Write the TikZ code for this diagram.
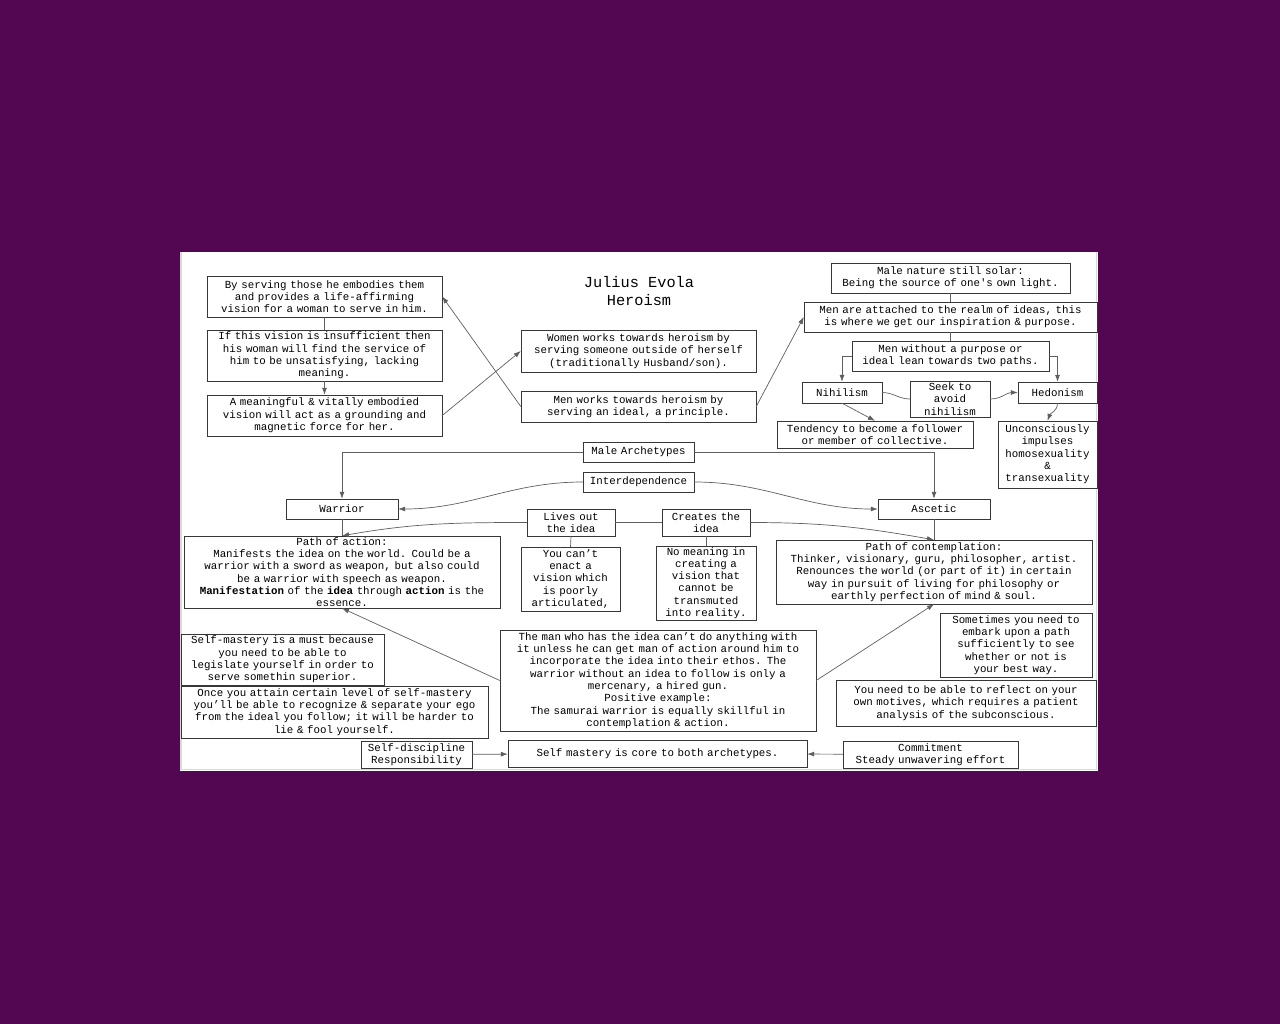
\documentclass[tikz,border=0pt]{standalone}
\usepackage{fontspec}
\setmonofont{Liberation Mono}
\usetikzlibrary{arrows.meta}
\definecolor{bgpurple}{RGB}{83,7,82}
\definecolor{boxline}{RGB}{55,55,55}
\definecolor{linegray}{RGB}{95,95,95}
\newcommand\diagfont{\fontsize{10.8pt}{12.3pt}\selectfont\ttfamily}
\newcommand\headfont{\fontsize{15.3pt}{18pt}\selectfont\ttfamily}
\begin{document}
\begin{tikzpicture}[
    x=1pt, y=-1pt,
    box/.style={draw=boxline, fill=white, align=center, inner xsep=0pt, inner ysep=0pt, font=\diagfont},
    title/.style={align=center, font=\headfont},
    link/.style={draw=linegray, line width=0.7pt},
    arrow/.style={link, -{Latex[length=7pt, width=5pt]}}
]
\useasboundingbox (0,0) rectangle (1280,1024);

% Page
\fill[bgpurple] (0,0) rectangle (1280,1024);
\fill[white] (180,252) rectangle (1098,771);
\draw[gray!30, line width=1.5pt] (181,252) -- (181,769.5) -- (1096.5,769.5) -- (1096.5,252);

% Title
\node[title] (heroism) at (639,291) {Julius Evola\\Heroism};

% Woman side
\node[box, text width=235pt, minimum height=41pt] (serve) at (324.5,296.5)
    {By serving those he embodies them\\and provides a life-affirming\\vision for a woman to serve in him.};
\node[box, text width=235pt, minimum height=51pt] (insuff) at (324.5,355.5)
    {If this vision is insufficient then\\his woman will find the service of\\him to be unsatisfying, lacking\\meaning.};
\node[box, text width=235pt, minimum height=41pt] (meaning) at (324.5,415.5)
    {A meaningful \& vitally embodied\\vision will act as a grounding and\\magnetic force for her.};
\node[box, text width=235pt, minimum height=42pt] (women) at (638.5,351)
    {Women works towards heroism by\\serving someone outside of herself\\(traditionally Husband/son).};
\node[box, text width=235pt, minimum height=31pt] (men) at (638.5,406.5)
    {Men works towards heroism by\\serving an ideal, a principle.};

% Ideas side
\node[box, text width=239pt, minimum height=30pt] (solar) at (950.5,278)
    {Male nature still solar:\\Being the source of one's own light.};
\node[box, text width=293pt, minimum height=30pt] (ideas) at (950.5,317)
    {Men are attached to the realm of ideas, this\\is where we get our inspiration \& purpose.};
\node[box, text width=197pt, minimum height=30pt] (paths) at (950.5,356)
    {Men without a purpose or\\ideal lean towards two paths.};
\node[box, text width=80pt, minimum height=21pt] (nihil) at (842,392.5) {Nihilism};
\node[box, text width=80pt, minimum height=36pt] (avoid) at (950,399) {Seek to\\avoid\\nihilism};
\node[box, text width=79pt, minimum height=21pt] (hedon) at (1057.5,392.5) {Hedonism};
\node[box, text width=196pt, minimum height=27pt] (follower) at (875,434.5)
    {Tendency to become a follower\\or member of collective.};
\node[box, text width=99pt, minimum height=67pt] (unconsc) at (1047.5,454.5)
    {Unconsciously\\impulses\\homosexuality\\\&\\transexuality};

% Archetypes
\node[box, text width=111pt, minimum height=20pt] (archetypes) at (638.5,452) {Male Archetypes};
\node[box, text width=111pt, minimum height=20pt] (interdep) at (638.5,482) {Interdependence};
\node[box, text width=112pt, minimum height=20pt] (warrior) at (342,509) {Warrior};
\node[box, text width=112pt, minimum height=20pt] (ascetic) at (934,509) {Ascetic};
\node[box, text width=88pt, minimum height=27pt] (lives) at (571,522.5) {Lives out\\the idea};
\node[box, text width=88pt, minimum height=27pt] (creates) at (706,522.5) {Creates the\\idea};
\node[box, text width=316pt, minimum height=72pt] (action) at (342,572)
    {Path of action:\\Manifests the idea on the world. Could be a\\warrior with a sword as weapon, but also could\\be a warrior with speech as weapon.\\\textbf{Manifestation} of the \textbf{idea} through \textbf{action} is the\\essence.};
\node[box, text width=316pt, minimum height=64pt] (contemp) at (934,572)
    {Path of contemplation:\\Thinker, visionary, guru, philosopher, artist.\\Renounces the world (or part of it) in certain\\way in pursuit of living for philosophy or\\earthly perfection of mind \& soul.};
\node[box, text width=99pt, minimum height=64pt] (cant) at (570.5,579)
    {You can’t\\enact a\\vision which\\is poorly\\articulated,};
\node[box, text width=100pt, minimum height=74pt] (nomean) at (706,583)
    {No meaning in\\creating a\\vision that\\cannot be\\transmuted\\into reality.};
\node[box, text width=316pt, minimum height=101pt] (man) at (658,680.5)
    {The man who has the idea can’t do anything with\\it unless he can get man of action around him to\\incorporate the idea into their ethos. The\\warrior without an idea to follow is only a\\mercenary, a hired gun.\\Positive example:\\The samurai warrior is equally skillful in\\contemplation \& action.};

% Self mastery
\node[box, text width=203pt, minimum height=51pt] (selfmust) at (282.5,659.5)
    {Self-mastery is a must because\\you need to be able to\\legislate yourself in order to\\serve somethin superior.};
\node[box, text width=307pt, minimum height=52pt] (attain) at (334.5,712)
    {Once you attain certain level of self-mastery\\you’ll be able to recognize \& separate your ego\\from the ideal you follow; it will be harder to\\lie \& fool yourself.};
\node[box, text width=152pt, minimum height=64pt] (sometimes) at (1016,645)
    {Sometimes you need to\\embark upon a path\\sufficiently to see\\whether or not is\\your best way.};
\node[box, text width=260pt, minimum height=46pt] (reflect) at (966,703)
    {You need to be able to reflect on your\\own motives, which requires a patient\\analysis of the subconscious.};
\node[box, text width=299pt, minimum height=27pt] (core) at (657.5,753.5)
    {Self mastery is core to both archetypes.};
\node[box, text width=111pt, minimum height=27pt] (discipline) at (416.5,754.5)
    {Self-discipline\\Responsibility};
\node[box, text width=175pt, minimum height=27pt] (commit) at (930.5,754.5)
    {Commitment\\Steady unwavering effort};

% Woman side connections
\draw[link] (serve) -- (insuff);
\draw[arrow] (insuff) -- (meaning);
\draw[arrow] (men.west) -- (serve.east);
\draw[arrow] (meaning.east) -- (women.west);
\draw[arrow] (men.east) -- (ideas.west);

% Ideas side connections
\draw[link] (solar) -- (ideas);
\draw[link] (ideas) -- (paths);
\draw[arrow] (paths.west) -| (nihil.north);
\draw[arrow] (paths.east) -| (hedon.north);
\draw[link] (nihil.east) to[out=0, in=180] (avoid.west);
\draw[arrow] (avoid.east) to[out=0, in=180] (hedon.west);
\draw[arrow] (nihil.south) -- (follower.north);
\draw[arrow] (hedon.south) to[out=-90, in=70] (unconsc.north);

% Archetype connections
\draw[arrow] (archetypes.west) -| (warrior.north);
\draw[arrow] (archetypes.east) -| (ascetic.north);
\draw[arrow] (interdep.west) to[out=180, in=0] (warrior.east);
\draw[arrow] (interdep.east) to[out=0, in=180] (ascetic.west);
\draw[link] (warrior) -- (action);
\draw[link] (ascetic) -- (contemp);
\draw[link] (lives) -- (creates);
\draw[arrow] (lives.west) to[out=180, in=10] (action.north);
\draw[arrow] (creates.east) to[out=0, in=170] (contemp.north);
\draw[link] (lives.south) -- (cant.north);
\draw[link] (creates.south) -- (nomean.north);
\draw[arrow] (man.west) -- (action.south);
\draw[arrow] (man.east) -- (contemp.south);

% Self mastery connections
\draw[arrow] (discipline) -- (core);
\draw[arrow] (commit) -- (core);

\end{tikzpicture}
\end{document}
